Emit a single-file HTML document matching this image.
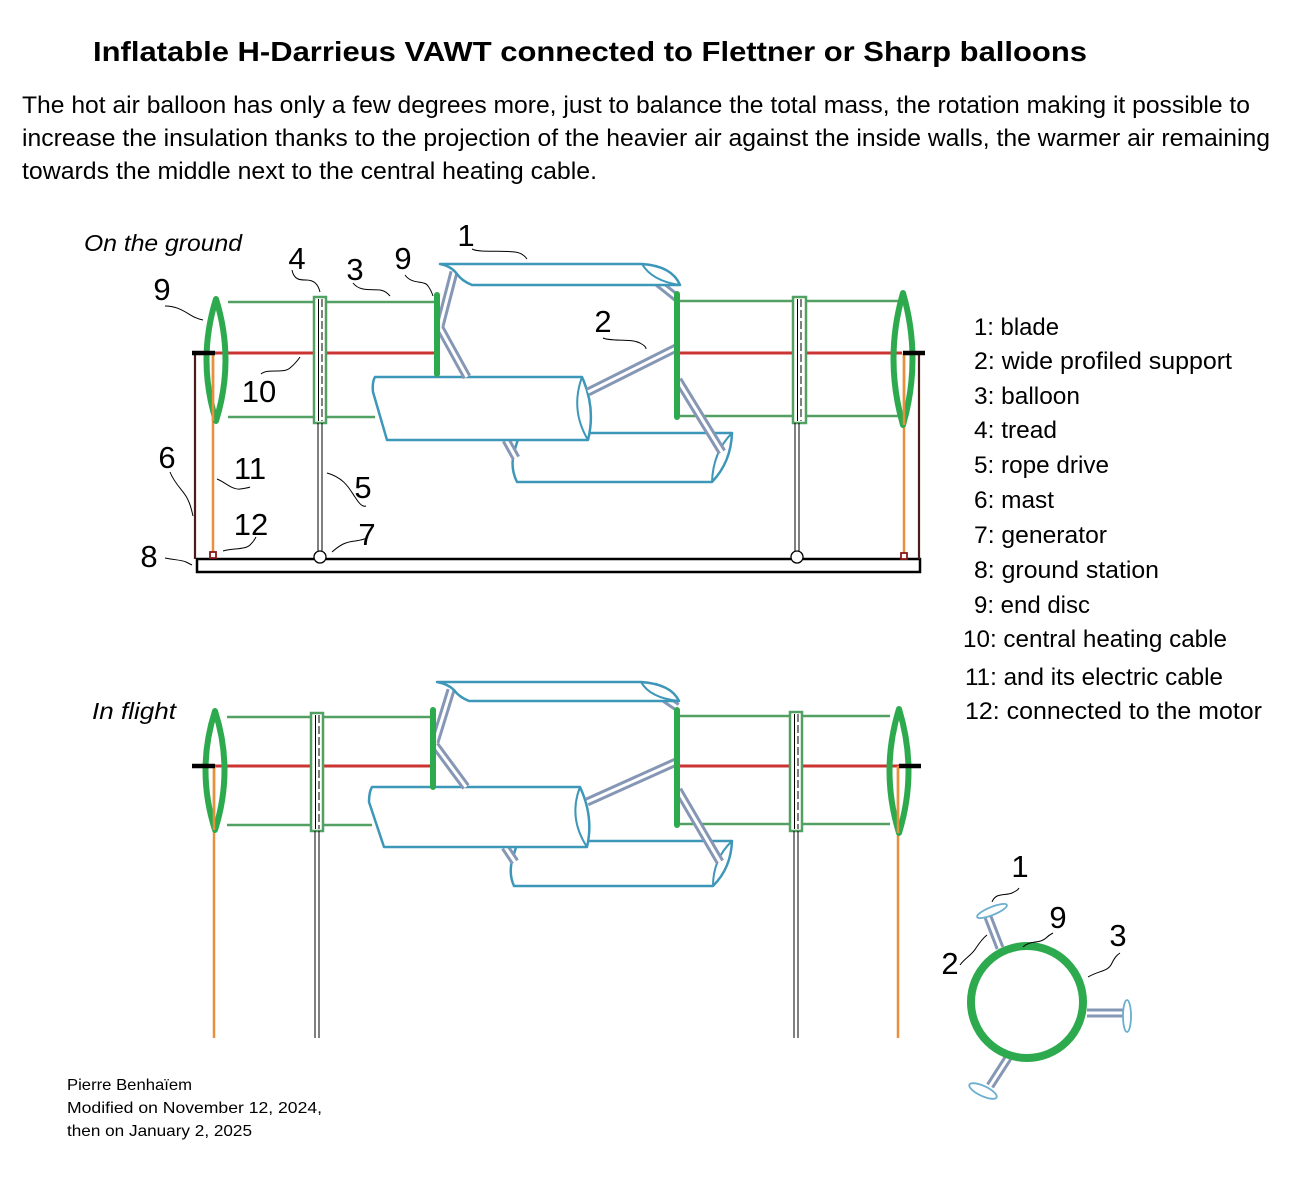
<!DOCTYPE html>
<html>
<head>
<meta charset="utf-8">
<style>
  html,body{margin:0;padding:0;background:#fff;}
  svg{display:block;}
  text{font-family:"Liberation Sans",Arial,sans-serif;fill:#000;}
  .bl{fill:none;stroke:#52a062;stroke-width:2.5;}
  .red{fill:none;stroke:#cc3333;stroke-width:3;}
  .disc{fill:none;stroke:#2eaa4e;stroke-width:6;stroke-linecap:round;stroke-linejoin:round;}
  .blade{fill:#fff;stroke:#3d97b8;stroke-width:2.5;stroke-linejoin:round;}
  .bladein{fill:none;stroke:#3d97b8;stroke-width:2;}
  .sg{fill:none;stroke:#8597b5;stroke-width:9;}
  .sw{fill:none;stroke:#fff;stroke-width:3;}
  .lead{fill:none;stroke:#000;stroke-width:1;}
  .orange{stroke:#e8903c;stroke-width:2.5;fill:none;}
  .mast{stroke:#4a1c1c;stroke-width:2.2;fill:none;}
  .bar{stroke:#000;stroke-width:4.5;fill:none;}
  .rope{stroke:#000;stroke-width:1;fill:none;}
  .tread{fill:#fff;stroke:#52a062;stroke-width:2.5;}
  .num{font-size:31px;}
  .leg{font-size:24px;}
</style>
</head>
<body>
<svg width="1316" height="1179" viewBox="0 0 1316 1179" xmlns="http://www.w3.org/2000/svg">
  <rect width="1316" height="1179" fill="#fff"/>

  <!-- Title and description -->
  <text x="93" y="61" font-size="28" font-weight="bold" textLength="994" lengthAdjust="spacingAndGlyphs">Inflatable  H-Darrieus VAWT connected to Flettner or Sharp balloons</text>
  <text x="22" y="113" font-size="24" textLength="1228" lengthAdjust="spacingAndGlyphs">The hot air balloon has only a few degrees more, just to balance the total mass, the rotation making it possible to</text>
  <text x="22" y="146" font-size="24" textLength="1248" lengthAdjust="spacingAndGlyphs">increase the insulation thanks to the projection of the heavier air against the inside walls, the warmer air remaining</text>
  <text x="22" y="179" font-size="24" textLength="575" lengthAdjust="spacingAndGlyphs">towards the middle next to the central heating cable.</text>

  <text x="84" y="251" font-size="23" font-style="italic" textLength="158" lengthAdjust="spacingAndGlyphs">On the ground</text>
  <text x="92" y="719" font-size="23" font-style="italic" textLength="84" lengthAdjust="spacingAndGlyphs">In flight</text>

  <!-- ================= TOP DIAGRAM ================= -->
  <!-- balloon lines -->
  <path class="bl" d="M228,302 H435 M228,417 H375 M677,301 H903 M677,416 H903"/>
  <path class="red" d="M215,353 H437 M677,353 H902"/>
  <!-- treads -->
  <rect class="tread" x="314" y="297" width="12" height="126"/>
  <line class="rope" x1="318.5" y1="299" x2="318.5" y2="421"/>
  <line class="rope" x1="322" y1="299" x2="322" y2="421" stroke-dasharray="8 3"/>
  <rect class="tread" x="793" y="297" width="13" height="126"/>
  <line class="rope" x1="797.5" y1="299" x2="797.5" y2="421"/>
  <line class="rope" x1="801" y1="299" x2="801" y2="421" stroke-dasharray="8 3"/>
  <!-- ropes -->
  <path class="rope" d="M318,423 V551 M322,423 V551 M795,423 V551 M799,423 V551"/>
  <!-- ground station -->
  <rect x="197" y="559" width="723" height="13" fill="none" stroke="#000" stroke-width="2.5"/>
  <circle cx="320" cy="557" r="6" fill="#fff" stroke="#000" stroke-width="1.3"/>
  <circle cx="797" cy="557" r="6" fill="#fff" stroke="#000" stroke-width="1.3"/>
  <!-- masts -->
  <path class="mast" d="M195,353 V559 M919,353 V559"/>
  <!-- orange cables -->
  <path class="orange" d="M213,353 V552 M904,353 V553"/>
  <rect x="210" y="552" width="6" height="6" fill="#fff" stroke="#8b1a1a" stroke-width="1.8"/>
  <rect x="901" y="553" width="6" height="6" fill="#fff" stroke="#8b1a1a" stroke-width="1.8"/>

  <!-- lower-right blade -->
  <path class="blade" d="M520,433 L732,433 Q731,462 712,482 L517,482 Q510,468 514,452 L520,433 Z"/>
  <path class="bladein" d="M732,433 Q713,452 712,482"/>
  <!-- struts f, e -->
  <path class="sg" d="M506,440 L516,458 M678,380 L722,452"/>
  <path class="sw" d="M506,440 L516,458 M678,380 L722,452"/>
  <!-- lower-left blade -->
  <path class="blade" d="M375,377 L582,377 Q596,408 588,440 L387,440 L373,392 Q372,382 375,377 Z"/>
  <path class="bladein" d="M582,377 Q570,410 588,440"/>
  <!-- struts b, d, a, c -->
  <path class="sg" d="M440,328 L467,377 M676,348 L588,392 M454,272 L440,326 M657,282 L677,298"/>
  <path class="sw" d="M440,328 L467,377 M676,348 L588,392 M454,272 L440,326 M657,282 L677,298"/>
  <!-- upper blade -->
  <path class="blade" d="M440,264 L642,264 Q672,266 680,285 L472,285 Q462,281 457,274 Q451,266 440,264 Z"/>
  <path class="bladein" d="M642,264 Q652,281 680,285"/>
  <!-- inner discs -->
  <path class="disc" d="M437,295 V374 M677,294 V417"/>
  <!-- end discs -->
  <path class="disc" d="M216,299 Q197,360 216,421 Q235,360 216,299 Z"/>
  <path class="disc" d="M903,293 Q884,359 903,425 Q922,359 903,293 Z"/>
  <path class="orange" d="M213,353 V421 M904,353 V425"/>
  <path class="bar" d="M192,353 H215 M903,353 H925"/>

  <!-- leaders top -->
  <path class="lead" d="M165,306 C183,306 190,318 203,320"/>
  <path class="lead" d="M292,270 C294,280 300,280 306,280 C314,280 318,284 320,292"/>
  <path class="lead" d="M353,283 C360,292 372,289 380,290 C386,291 388,294 390,296"/>
  <path class="lead" d="M405,275 C412,285 425,280 428,286 C431,290 432,293 433,296"/>
  <path class="lead" d="M472,249 C480,253 500,250 515,252 C522,253 525,256 527,259"/>
  <path class="lead" d="M603,338 C612,342 630,338 640,343 C645,346 646,347 646,349"/>
  <path class="lead" d="M261,374 C268,368 283,374 290,368 C296,363 298,360 300,357"/>
  <path class="lead" d="M170,472 C175,485 185,492 188,500 C191,506 192,512 193,516"/>
  <path class="lead" d="M217,479 C225,482 232,490 240,489 C246,488 248,488 250,487"/>
  <path class="lead" d="M327,473 C345,478 350,490 355,497 C360,505 363,507 366,506"/>
  <path class="lead" d="M223,551 C232,548 245,550 250,545 C254,541 255,539 256,537"/>
  <path class="lead" d="M332,552 C340,545 345,542 355,541 C362,540 366,539 368,537"/>
  <path class="lead" d="M165,558 C175,560 182,560 186,562 C188,563 190,564 192,565"/>

  <!-- labels top -->
  <g class="num" text-anchor="middle">
    <text x="162" y="300">9</text>
    <text x="297" y="269">4</text>
    <text x="355" y="280">3</text>
    <text x="403" y="269">9</text>
    <text x="466" y="246">1</text>
    <text x="603" y="332">2</text>
    <text x="259" y="402">10</text>
    <text x="167" y="468">6</text>
    <text x="250" y="479">11</text>
    <text x="363" y="498">5</text>
    <text x="251" y="535">12</text>
    <text x="367" y="545">7</text>
    <text x="149" y="567">8</text>
  </g>

  <!-- ================= BOTTOM DIAGRAM ================= -->
  <path class="bl" d="M227,717 H433 M227,825 H372 M677,716 H890 M677,824 H890"/>
  <path class="red" d="M213,766 H433 M677,766 H899"/>
  <rect class="tread" x="311" y="713" width="12" height="118"/>
  <line class="rope" x1="315.5" y1="715" x2="315.5" y2="829"/>
  <line class="rope" x1="319" y1="715" x2="319" y2="829" stroke-dasharray="8 3"/>
  <rect class="tread" x="790" y="712" width="12" height="119"/>
  <line class="rope" x1="794.5" y1="714" x2="794.5" y2="829"/>
  <line class="rope" x1="798" y1="714" x2="798" y2="829" stroke-dasharray="8 3"/>
  <path class="rope" d="M315,831 V1038 M319,831 V1038 M794,831 V1038 M798,831 V1038"/>
  <path class="orange" d="M214,766 V1038 M898,766 V1038"/>

  <path class="blade" d="M520,841 L732,841 Q731,868 713,886 L514,886 Q508,873 513,857 L518,841 Z"/>
  <path class="bladein" d="M732,841 Q713,859 713,886"/>
  <path class="sg" d="M505,847 L515,862 M678,790 L720,862"/>
  <path class="sw" d="M505,847 L515,862 M678,790 L720,862"/>
  <path class="blade" d="M372,787 L580,787 Q594,817 587,847 L384,847 L369,802 Q369,792 372,787 Z"/>
  <path class="bladein" d="M580,787 Q568,818 587,847"/>
  <path class="sg" d="M435,745 L466,787 M676,762 L587,802 M451,690 L435,742 M655,692 L677,707"/>
  <path class="sw" d="M435,745 L466,787 M676,762 L587,802 M451,690 L435,742 M655,692 L677,707"/>
  <path class="blade" d="M437,682 L641,682 Q671,684 679,701 L469,701 Q459,697 454,690 Q448,684 437,682 Z"/>
  <path class="bladein" d="M641,682 Q650,698 679,701"/>
  <path class="disc" d="M433,710 V787 M677,710 V825"/>
  <path class="disc" d="M215,711 Q196,770 215,830 Q234,770 215,711 Z"/>
  <path class="disc" d="M899,709 Q880,771 899,833 Q918,771 899,709 Z"/>
  <path class="orange" d="M214,766 V830 M898,766 V833"/>
  <path class="bar" d="M192,766 H215 M899,766 H921"/>

  <!-- ================= CROSS SECTION ================= -->
  <path class="sg" d="M1000,948 L988,917 M1087,1013 L1124,1013 M1008,1058 L990,1086" stroke-width="8"/>
  <path class="sw" d="M1000,948 L988,917 M1087,1013 L1124,1013 M1008,1058 L990,1086"/>
  <ellipse cx="992" cy="911" rx="16" ry="4" transform="rotate(-22 992 911)" fill="#fff" stroke="#6aaed0" stroke-width="1.8"/>
  <ellipse cx="1127" cy="1016" rx="4" ry="16" fill="#fff" stroke="#6aaed0" stroke-width="1.8"/>
  <ellipse cx="983" cy="1091" rx="15" ry="5" transform="rotate(25 983 1091)" fill="#fff" stroke="#6aaed0" stroke-width="1.8"/>
  <circle cx="1027" cy="1002" r="56" fill="none" stroke="#2eaa4e" stroke-width="8"/>

  <path class="lead" d="M992,902 C996,892 1005,896 1012,893 C1016,891 1018,890 1019,888"/>
  <path class="lead" d="M1023,947 C1030,940 1040,944 1046,938 C1049,935 1051,934 1053,933"/>
  <path class="lead" d="M1088,977 C1100,970 1108,972 1112,963 C1115,957 1117,955 1120,953"/>
  <path class="lead" d="M960,965 C965,958 972,955 976,948 C980,942 983,938 987,935"/>

  <g class="num" text-anchor="middle">
    <text x="1020" y="877">1</text>
    <text x="1058" y="928">9</text>
    <text x="1118" y="946">3</text>
    <text x="950" y="974">2</text>
  </g>

  <!-- ================= LEGEND ================= -->
  <g class="leg">
    <text x="974" y="335" textLength="85" lengthAdjust="spacingAndGlyphs">1: blade</text>
    <text x="974" y="369" textLength="258" lengthAdjust="spacingAndGlyphs">2: wide profiled support</text>
    <text x="974" y="404" textLength="106" lengthAdjust="spacingAndGlyphs">3: balloon</text>
    <text x="974" y="438" textLength="83" lengthAdjust="spacingAndGlyphs">4: tread</text>
    <text x="974" y="473" textLength="135" lengthAdjust="spacingAndGlyphs">5: rope drive</text>
    <text x="974" y="508" textLength="80" lengthAdjust="spacingAndGlyphs">6: mast</text>
    <text x="974" y="543" textLength="133" lengthAdjust="spacingAndGlyphs">7: generator</text>
    <text x="974" y="578" textLength="185" lengthAdjust="spacingAndGlyphs">8: ground station</text>
    <text x="974" y="613" textLength="116" lengthAdjust="spacingAndGlyphs">9: end disc</text>
    <text x="963" y="647" textLength="264" lengthAdjust="spacingAndGlyphs">10: central heating cable</text>
    <text x="965" y="685" textLength="258" lengthAdjust="spacingAndGlyphs">11: and its electric cable</text>
    <text x="965" y="719" textLength="297" lengthAdjust="spacingAndGlyphs">12: connected to the motor</text>
  </g>

  <!-- ================= FOOTER ================= -->
  <text x="67" y="1090" font-size="16" textLength="125" lengthAdjust="spacingAndGlyphs">Pierre Benhaïem</text>
  <text x="67" y="1113" font-size="16" textLength="255" lengthAdjust="spacingAndGlyphs">Modified on November 12, 2024,</text>
  <text x="67" y="1136" font-size="16" textLength="185" lengthAdjust="spacingAndGlyphs">then on January 2, 2025</text>
</svg>
</body>
</html>
